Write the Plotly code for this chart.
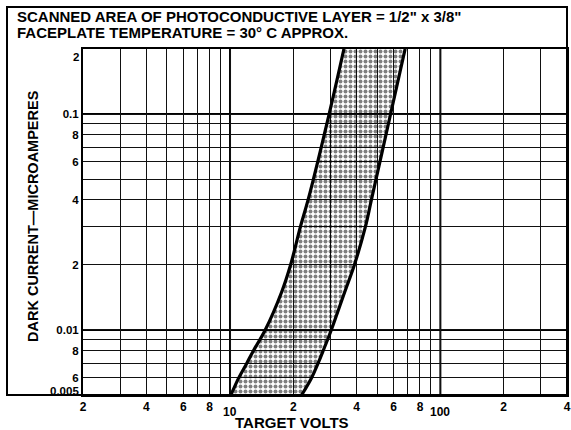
import plotly.graph_objects as go

# ---- data ----
current = [0.005, 0.006, 0.007, 0.008, 0.01, 0.015, 0.02, 0.03, 0.04, 0.1, 0.2]   # microamperes
left_volts = [10.1, 11.0, 12.0, 12.9, 14.7, 17.6, 19.4, 21.6, 23.5, 29.6, 34.8]   # low-voltage boundary
right_volts = [21.9, 24.4, 26.2, 27.7, 30.3, 35.1, 39.0, 44.0, 47.0, 58.0, 68.0]  # high-voltage boundary

x_tickvals = [2, 3, 4, 5, 6, 7, 8, 9, 10, 20, 30, 40, 50, 60, 70, 80, 90, 100, 200, 300, 400]
x_ticktext = ["2", "", "4", "", "6", "", "8", "", "", "2", "", "4", "", "6", "", "8", "", "", "2", "", "4"]
y_tickvals = [0.005, 0.006, 0.007, 0.008, 0.009, 0.01, 0.02, 0.03, 0.04, 0.05,
              0.06, 0.07, 0.08, 0.09, 0.1, 0.2]
y_ticktext = ["", "6", "", "8", "", "0.01", "2", "", "4", "", "6", "", "8", "", "0.1", ""]
x_decades = [10, 100]
y_decades = [0.01, 0.1]

FONT = "Liberation Sans"
W, H = 571, 430
L, R, T, B = 83, 4, 49, 35
PW, PH = W - L - R, H - T - B


def px(xp):
    return (xp - L) / PW


def py(yp):
    return (H - B - yp) / PH


fig = go.Figure()

# band between the two curves
band_x = left_volts + right_volts[::-1]
band_y = current + current[::-1]
fig.add_trace(go.Scatter(
    x=band_x, y=band_y, mode="lines", fill="toself",
    line=dict(width=0, color="rgba(0,0,0,0)"),
    fillcolor="rgba(0,0,0,0)",
    fillpattern=dict(shape=".", fgcolor="black", bgcolor="rgba(0,0,0,0)",
                     size=5, solidity=0.5),
    hoverinfo="skip", showlegend=False))

for xs in (left_volts, right_volts):
    fig.add_trace(go.Scatter(x=xs, y=current, mode="lines",
                             line=dict(color="black", width=3.2, shape="spline", smoothing=1),
                             showlegend=False))

# heavier decade grid lines
for xv in x_decades:
    fig.add_shape(type="line", xref="x", yref="paper", x0=xv, x1=xv, y0=0, y1=1,
                  line=dict(color="black", width=2), layer="below")
for yv in y_decades:
    fig.add_shape(type="line", xref="paper", yref="y", x0=0, x1=1, y0=yv, y1=yv,
                  line=dict(color="black", width=2), layer="below")

# outer frame (title box + y-label box)
fig.add_shape(type="rect", xref="paper", yref="paper",
              x0=px(7), x1=1, y0=0, y1=py(7),
              line=dict(color="black", width=2))

tick_font = dict(family=FONT, size=12, color="black", weight="bold")
ytick_font = dict(family=FONT, size=11.5, color="black", weight="bold")

fig.update_xaxes(type="log", range=[0.30103, 2.60206],
                 tickmode="array", tickvals=x_tickvals, ticktext=x_ticktext,
                 showgrid=True, gridcolor="#111111", gridwidth=1,
                 showline=True, linecolor="black", linewidth=2, mirror=True,
                 ticks="", tickfont=tick_font, zeroline=False, automargin=False)
fig.update_yaxes(type="log", range=[-2.30103, -0.69897],
                 tickmode="array", tickvals=y_tickvals, ticktext=y_ticktext,
                 showgrid=True, gridcolor="#111111", gridwidth=1,
                 showline=True, linecolor="black", linewidth=2, mirror=True,
                 ticks="", tickfont=ytick_font, zeroline=False, automargin=False)

ann = []
# decade labels set lower than the others
for lab, lv in (("10", 1), ("100", 2)):
    ann.append(dict(x=lv, xref="x", y=0, yref="paper", text=lab, showarrow=False,
                    xanchor="center", yanchor="top", yshift=-8, font=tick_font))
# edge labels of y axis
ann.append(dict(x=0, xref="paper", y=-0.69897, yref="y", text="2", showarrow=False,
                xanchor="right", yanchor="top", xshift=-2, font=ytick_font))
ann.append(dict(x=0, xref="paper", y=-2.30103, yref="y", text="0.005", showarrow=False,
                xanchor="right", yanchor="bottom", xshift=-2, yshift=-4, font=ytick_font))
# titles
title_font = dict(family=FONT, size=15, color="black", weight="bold")
ann.append(dict(x=px(15), y=py(16.5), xref="paper", yref="paper", showarrow=False,
                xanchor="left", yanchor="middle", font=title_font,
                text="SCANNED AREA OF PHOTOCONDUCTIVE LAYER = 1/2\" x 3/8\""))
ann.append(dict(x=px(15), y=py(32.5), xref="paper", yref="paper", showarrow=False,
                xanchor="left", yanchor="middle", font=title_font,
                text="FACEPLATE TEMPERATURE = 30° C APPROX."))
ann.append(dict(x=px(292), y=py(422), xref="paper", yref="paper", showarrow=False,
                xanchor="center", yanchor="middle",
                font=dict(family=FONT, size=15, color="black", weight="bold"),
                text="TARGET VOLTS"))
ann.append(dict(x=px(33), y=py(216), xref="paper", yref="paper", showarrow=False,
                xanchor="center", yanchor="middle", textangle=-90,
                font=dict(family=FONT, size=14.5, color="black", weight="bold"),
                text="DARK CURRENT—MICROAMPERES"))

fig.update_layout(width=W, height=H, margin=dict(l=L, r=R, t=T, b=B),
                  paper_bgcolor="white", plot_bgcolor="white",
                  annotations=ann, showlegend=False)

fig.write_html("out.html", config={"displayModeBar": False},
               post_script="document.body.style.margin='0';document.body.style.padding='0';")
